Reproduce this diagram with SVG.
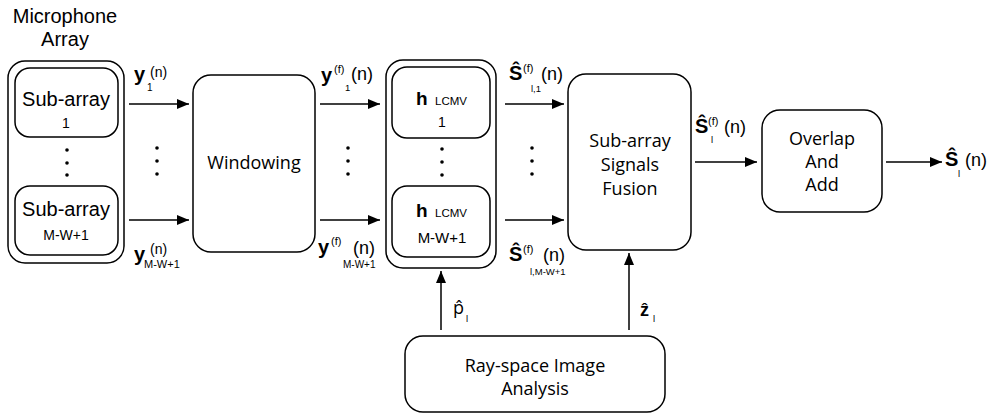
<svg xmlns="http://www.w3.org/2000/svg" width="1004" height="414" viewBox="0 0 1004 414">
  <style>
    .box { fill: #fff; stroke: #000; stroke-width: 1.5; }
    .wire { stroke: #000; stroke-width: 1.5; fill: none; marker-end: url(#arrow); }
    .dot { fill: #000; }
    .ar { font-family: "Liberation Sans", Arial, sans-serif; fill: #000; }
    .os { font-family: "Open Sans", "Liberation Sans", sans-serif; fill: #000; }
    .bold { font-weight: bold; }
    .mid { text-anchor: middle; }
  </style>
  <defs>
    <marker id="arrow" markerUnits="userSpaceOnUse" markerWidth="13" markerHeight="11" refX="12" refY="5" orient="auto">
      <path d="M0,0 L12,5 L0,10 Z" fill="#000"/>
    </marker>
  </defs>

  <!-- Microphone array with its sub-arrays -->
  <g id="mic-array">
    <text class="ar mid" x="65" y="23" font-size="20">Microphone</text>
    <text class="ar mid" x="65" y="46" font-size="20">Array</text>
    <rect class="box" x="8" y="61" width="116" height="202" rx="17"/>
  </g>
  <g id="subarray-1">
    <rect class="box" x="15" y="68" width="103" height="69" rx="15"/>
    <text class="ar mid" x="66" y="106" font-size="20">Sub-array</text>
    <text class="ar mid" x="66" y="128" font-size="14">1</text>
  </g>
  <g id="subarray-mw1">
    <rect class="box" x="15" y="186" width="103" height="69" rx="15"/>
    <text class="ar mid" x="66" y="216" font-size="20">Sub-array</text>
    <text class="ar mid" x="66" y="240" font-size="14">M-W+1</text>
  </g>
  <g id="mic-dots">
    <circle class="dot" cx="67" cy="150" r="1.8"/>
    <circle class="dot" cx="67" cy="163" r="1.8"/>
    <circle class="dot" cx="67" cy="175" r="1.8"/>
  </g>

  <!-- Windowing -->
  <g id="windowing">
    <rect class="box" x="193" y="75" width="122" height="177" rx="18"/>
    <text class="os mid" x="254" y="169" font-size="18">Windowing</text>
  </g>

  <!-- LCMV beamformer bank -->
  <g id="lcmv">
    <rect class="box" x="386" y="60" width="110" height="208" rx="17"/>
  </g>
  <g id="lcmv-1">
    <rect class="box" x="392" y="67" width="98" height="71" rx="15"/>
    <text class="ar bold" x="416" y="105" font-size="19">h</text>
    <text class="ar" x="435" y="105" font-size="11.5">LCMV</text>
    <text class="ar mid" x="442" y="127" font-size="14">1</text>
  </g>
  <g id="lcmv-mw1">
    <rect class="box" x="392" y="186" width="98" height="71" rx="15"/>
    <text class="ar bold" x="416" y="217" font-size="19">h</text>
    <text class="ar" x="435" y="217" font-size="11.5">LCMV</text>
    <text class="ar mid" x="442" y="243" font-size="15">M-W+1</text>
  </g>
  <g id="lcmv-dots">
    <circle class="dot" cx="442" cy="149" r="1.8"/>
    <circle class="dot" cx="442" cy="162" r="1.8"/>
    <circle class="dot" cx="442" cy="175" r="1.8"/>
  </g>

  <!-- Fusion of sub-array signals -->
  <g id="fusion">
    <rect class="box" x="568" y="74" width="123" height="176" rx="18"/>
    <text class="os mid" x="630" y="147" font-size="18">Sub-array</text>
    <text class="os mid" x="630" y="171" font-size="18">Signals</text>
    <text class="os mid" x="630" y="195" font-size="18">Fusion</text>
  </g>

  <!-- Overlap and add -->
  <g id="overlap-add">
    <rect class="box" x="762" y="110" width="120" height="102" rx="18"/>
    <text class="os mid" x="822" y="145" font-size="18">Overlap</text>
    <text class="os mid" x="822" y="168" font-size="18">And</text>
    <text class="os mid" x="822" y="191" font-size="18">Add</text>
  </g>

  <!-- Ray-space image analysis -->
  <g id="ray-space">
    <rect class="box" x="405" y="336" width="260" height="76" rx="18"/>
    <text class="os mid" x="535" y="372" font-size="18">Ray-space Image</text>
    <text class="os mid" x="535" y="395" font-size="18">Analysis</text>
  </g>

  <!-- Connectors -->
  <g id="connectors">
    <line class="wire" x1="129" y1="104" x2="189" y2="104"/>
    <line class="wire" x1="129" y1="220" x2="189" y2="220"/>
    <line class="wire" x1="320" y1="104" x2="380" y2="104"/>
    <line class="wire" x1="320" y1="220" x2="380" y2="220"/>
    <line class="wire" x1="505" y1="104" x2="564" y2="104"/>
    <line class="wire" x1="505" y1="220" x2="564" y2="220"/>
    <line class="wire" x1="695" y1="162" x2="757" y2="162"/>
    <line class="wire" x1="886" y1="162" x2="942" y2="162"/>
    <line class="wire" x1="441" y1="330" x2="441" y2="271"/>
    <line class="wire" x1="629" y1="330" x2="629" y2="253"/>

    <g id="dots-windowing">
      <circle class="dot" cx="157" cy="148" r="1.8"/>
      <circle class="dot" cx="157" cy="161" r="1.8"/>
      <circle class="dot" cx="157" cy="174" r="1.8"/>
    </g>
    <g id="dots-filtered">
      <circle class="dot" cx="348" cy="148" r="1.8"/>
      <circle class="dot" cx="348" cy="161" r="1.8"/>
      <circle class="dot" cx="348" cy="174" r="1.8"/>
    </g>
    <g id="dots-estimates">
      <circle class="dot" cx="532" cy="148" r="1.8"/>
      <circle class="dot" cx="532" cy="161" r="1.8"/>
      <circle class="dot" cx="532" cy="174" r="1.8"/>
    </g>

    <!-- signal labels -->
    <g id="label-y1">
      <text class="ar bold" x="134" y="81" font-size="20">y</text>
      <text class="ar" x="150" y="77" font-size="14">(n)</text>
      <text class="ar" x="147" y="91" font-size="10">1</text>
    </g>
    <g id="label-ymw1">
      <text class="ar bold" x="134" y="261" font-size="20">y</text>
      <text class="ar" x="150" y="254" font-size="14">(n)</text>
      <text class="ar" x="144" y="268" font-size="11">M-W+1</text>
    </g>
    <g id="label-yf1">
      <text class="ar bold" x="321" y="82" font-size="20">y</text>
      <text class="ar" x="334" y="73" font-size="11">(f)</text>
      <text class="ar" x="351" y="80" font-size="18">(n)</text>
      <text class="ar" x="345" y="91" font-size="9.5">1</text>
    </g>
    <g id="label-yfmw1">
      <text class="ar bold" x="318" y="254" font-size="20">y</text>
      <text class="ar" x="331" y="245" font-size="11">(f)</text>
      <text class="ar" x="353" y="254" font-size="18">(n)</text>
      <text class="ar" x="343" y="268" font-size="10">M-W+1</text>
    </g>
    <g id="label-s1">
      <text class="ar bold" x="509" y="80" font-size="20">Ŝ</text>
      <text class="ar" x="523" y="72" font-size="11">(f)</text>
      <text class="ar" x="541" y="80" font-size="18">(n)</text>
      <text class="ar" x="531" y="92" font-size="9.5">l,1</text>
    </g>
    <g id="label-smw1">
      <text class="ar bold" x="509" y="261" font-size="20">Ŝ</text>
      <text class="ar" x="523" y="253" font-size="11">(f)</text>
      <text class="ar" x="543" y="261" font-size="18">(n)</text>
      <text class="ar" x="530" y="275" font-size="9.5">l,M-W+1</text>
    </g>
    <g id="label-sf">
      <text class="ar bold" x="695" y="133" font-size="20">Ŝ</text>
      <text class="ar" x="708" y="125" font-size="11">(f)</text>
      <text class="ar" x="711" y="143" font-size="9.5">l</text>
      <text class="ar" x="724" y="133" font-size="18">(n)</text>
    </g>
    <g id="label-s">
      <text class="ar bold" x="945" y="166" font-size="20">Ŝ</text>
      <text class="ar" x="958" y="177" font-size="9.5">l</text>
      <text class="ar" x="965" y="166" font-size="18">(n)</text>
    </g>
    <g id="label-p">
      <text class="os" x="453" y="314" font-size="18">p̂</text>
      <text class="ar" x="466" y="322" font-size="9.5">l</text>
    </g>
    <g id="label-z">
      <text class="ar bold" x="640" y="316" font-size="18">ẑ</text>
      <text class="ar" x="653" y="322" font-size="9.5">l</text>
    </g>
  </g>
</svg>
